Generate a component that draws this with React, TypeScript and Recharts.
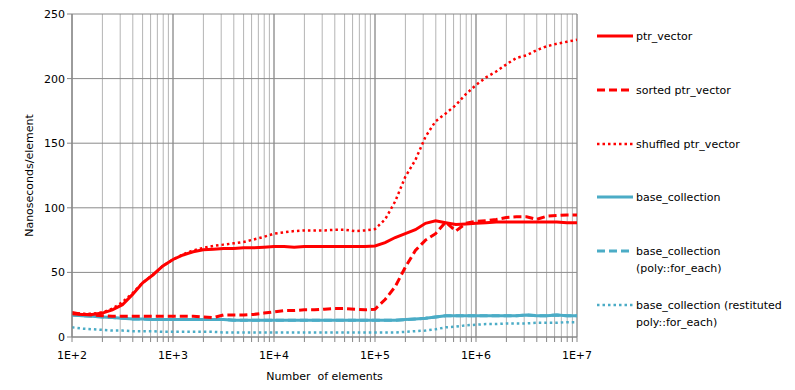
import React from 'react';
import { LineChart, Line, XAxis, YAxis, CartesianGrid, ReferenceLine, Label } from 'recharts';

const sizes = [
  100, 126, 158, 200, 251, 316, 398, 501, 631, 794,
  1000, 1259, 1585, 1995, 2512, 3162, 3981, 5012, 6310, 7943,
  10000, 12589, 15849, 19953, 25119, 31623, 39811, 50119, 63096, 79433,
  100000, 125893, 158489, 199526, 251189, 316228, 398107, 501187, 630957, 794328,
  1000000, 1258925, 1584893, 1995262, 2511886, 3162278, 3981072, 5011872, 6309573, 7943282,
  10000000,
];

const ptrVector = [
  18, 17.5, 17.5, 18.5, 21, 25, 33, 42, 48, 55,
  60, 63.5, 66, 67.5, 68, 68.5, 68.5, 69, 69, 69.5,
  70, 70, 69.5, 70, 70, 70, 70, 70, 70, 70,
  70.5, 73, 77, 80, 83, 88, 90, 88.5, 87, 87.5,
  88, 88.5, 89, 89, 89, 89, 89, 89, 89, 88.5,
  88.5,
];

const sortedPtrVector = [
  19, 17.5, 17, 16.5, 16, 16, 16, 16, 16, 16,
  16, 16, 16, 15.5, 15, 17, 17, 17, 17.5, 18.5,
  19.5, 20.5, 20.5, 21, 21, 21.5, 22, 22, 21.5, 21,
  21.5, 29, 39, 54, 67, 75, 80, 89, 82, 88,
  89.5, 90, 91, 92.5, 93, 93, 91, 93.5, 94, 94.5,
  94.5,
];

const shuffledPtrVector = [
  18.5, 18, 18, 19, 22, 27, 34, 42, 48, 55,
  60, 64, 67, 69, 70.5, 71.5, 72.5, 73.5, 75.5, 77.5,
  80, 81, 82, 82.5, 82.5, 82.5, 83, 83, 82, 82.5,
  83.5, 91, 105, 124, 137, 155, 167, 173, 179.5, 188,
  195, 201, 205.5, 211, 216, 218, 222, 225, 227, 228.5,
  230,
];

const baseCollection = [
  17, 16.5, 16, 15.5, 15, 14.5, 14, 14, 13.5, 13.5,
  13.5, 13.5, 13.5, 13.5, 13.5, 13.5, 13, 13, 13, 13,
  13, 13, 13, 13, 13, 13, 13, 13, 13, 13,
  13, 13, 13, 13.5, 14, 14.5, 15.5, 16.5, 16.5, 16.5,
  16.5, 16.5, 16.5, 16.5, 16.5, 17, 16.5, 16.5, 17, 16.5,
  16.5,
];

const baseCollectionPoly = [
  17, 16.5, 16, 15.5, 15, 14.5, 14, 14, 13.5, 13.5,
  13.5, 13.5, 13.5, 13.5, 13.5, 13.5, 13, 13, 13, 13,
  13, 13, 13, 13, 13, 13, 13, 13, 13, 13,
  13, 13, 13, 13.5, 14, 14.5, 15.5, 16.5, 16.5, 16.5,
  16.5, 16.5, 16.5, 16.5, 16.5, 17, 16.5, 16.5, 17, 16.5,
  16.5,
];

const baseCollectionRestituted = [
  7.5, 6.5, 6, 5.5, 5, 5, 4.5, 4.5, 4.5, 4,
  4, 4, 4, 4, 4, 3.5, 3.5, 3.5, 3.5, 3.5,
  3.5, 3.5, 3.5, 3.5, 3.5, 3.5, 3.5, 3.5, 3.5, 3.5,
  3.5, 3.5, 3.5, 4, 4.5, 5, 6, 7.5, 8, 9,
  9.5, 10, 10, 10.5, 10.5, 10.5, 11, 11, 11, 11.5,
  11.5,
];

const seriesNames = [
  'ptr_vector',
  'sorted ptr_vector',
  'shuffled ptr_vector',
  'base_collection',
  'base_collection (poly::for_each)',
  'base_collection (restituted poly::for_each)',
];

const decades = [100, 1000, 10000, 100000, 1000000, 10000000];
const yTicks = [0, 50, 100, 150, 200, 250];

const xTicks: number[] = [];
decades.slice(0, -1).forEach((d) => {
  for (let m = 1; m <= 9; m++) xTicks.push(d * m);
});
xTicks.push(10000000);

const data = sizes.map((n, i) => ({
  n,
  a: ptrVector[i],
  b: sortedPtrVector[i],
  c: shuffledPtrVector[i],
  d: baseCollection[i],
  e: baseCollectionPoly[i],
  f: baseCollectionRestituted[i],
}));

const RED = '#FF0000';
const BLUE = '#4BACC6';
const FONT = '"DejaVu Sans", Verdana, sans-serif';

const fmtX = (v: number) => {
  const e = Math.log10(v);
  return Math.abs(e - Math.round(e)) < 1e-9 ? `1E+${Math.round(e)}` : '';
};

const legendItems = [
  { name: seriesNames[0], lines: ['ptr_vector'], color: RED, dash: undefined, y: 36 },
  { name: seriesNames[1], lines: ['sorted ptr_vector'], color: RED, dash: '8 4', y: 90 },
  { name: seriesNames[2], lines: ['shuffled ptr_vector'], color: RED, dash: '2.5 3', y: 144 },
  { name: seriesNames[3], lines: ['base_collection'], color: BLUE, dash: undefined, y: 197 },
  { name: seriesNames[4], lines: ['base_collection', '(poly::for_each)'], color: BLUE, dash: '8 4', y: 251 },
  { name: seriesNames[5], lines: ['base_collection (restituted', 'poly::for_each)'], color: BLUE, dash: '2.5 3', y: 305 },
];

export default function App() {
  return (
    <div style={{ position: 'absolute', left: 0, top: 0, width: 795, height: 390, background: '#fff' }}>
      <LineChart
        width={795}
        height={390}
        data={data}
        margin={{ top: 14, right: 218, bottom: 23, left: 0 }}
        style={{ fontFamily: FONT }}
      >
        <CartesianGrid horizontal={false} stroke="#b4b4b4" strokeWidth={1} />
        {decades.map((d) => (
          <ReferenceLine key={'vx' + d} x={d} stroke="#8a8a8a" strokeWidth={1} ifOverflow="visible" />
        ))}
        {yTicks.map((t) => (
          <ReferenceLine key={'hy' + t} y={t} stroke="#8a8a8a" strokeWidth={1} />
        ))}
        <XAxis
          dataKey="n"
          type="number"
          scale="log"
          domain={[100, 10000000]}
          ticks={xTicks}
          interval={0}
          tickFormatter={fmtX}
          allowDataOverflow
          height={30}
          tickSize={5}
          tickMargin={9}
          axisLine={{ stroke: '#868686' }}
          tickLine={{ stroke: '#868686' }}
          tick={{ fill: '#000', fontSize: 11, fontFamily: FONT }}
        >
          <Label
            value={'Number \u00A0of elements'}
            position="bottom"
            offset={5}
            style={{ fill: '#000', fontSize: 11, fontFamily: FONT }}
          />
        </XAxis>
        <YAxis
          type="number"
          domain={[0, 250]}
          ticks={yTicks}
          interval={0}
          width={72}
          tickSize={5}
          axisLine={{ stroke: '#868686' }}
          tickLine={{ stroke: '#868686' }}
          tick={{ fill: '#000', fontSize: 11, fontFamily: FONT }}
        >
          <Label
            value="Nanoseconds/element"
            angle={-90}
            position="center"
            dx={-7}
            style={{ fill: '#000', fontSize: 11, fontFamily: FONT, textAnchor: 'middle' }}
          />
        </YAxis>
        <Line name={seriesNames[4]} dataKey="e" stroke={BLUE} strokeWidth={3} strokeDasharray="8 4" dot={false} isAnimationActive={false} />
        <Line name={seriesNames[3]} dataKey="d" stroke={BLUE} strokeWidth={3} dot={false} isAnimationActive={false} />
        <Line name={seriesNames[5]} dataKey="f" stroke={BLUE} strokeWidth={2.5} strokeDasharray="2.5 3" dot={false} isAnimationActive={false} />
        <Line name={seriesNames[2]} dataKey="c" stroke={RED} strokeWidth={2.5} strokeDasharray="2.5 3" dot={false} isAnimationActive={false} />
        <Line name={seriesNames[1]} dataKey="b" stroke={RED} strokeWidth={3} strokeDasharray="8 4" dot={false} isAnimationActive={false} />
        <Line name={seriesNames[0]} dataKey="a" stroke={RED} strokeWidth={3} dot={false} isAnimationActive={false} />
      </LineChart>
      <svg
        width={795}
        height={390}
        style={{ position: 'absolute', left: 0, top: 0, pointerEvents: 'none' }}
      >
        {legendItems.map((it) => (
          <g key={it.name}>
            <line
              x1={597}
              x2={633}
              y1={it.y}
              y2={it.y}
              stroke={it.color}
              strokeWidth={it.dash === '2.5 3' ? 2.5 : 3}
              strokeDasharray={it.dash}
            />
            {it.lines.map((ln, j) => (
              <text
                key={j}
                x={636}
                y={it.y + 4 + j * 16.5}
                fontSize={11}
                fontFamily={FONT}
                fill="#000"
              >
                {ln}
              </text>
            ))}
          </g>
        ))}
      </svg>
    </div>
  );
}
